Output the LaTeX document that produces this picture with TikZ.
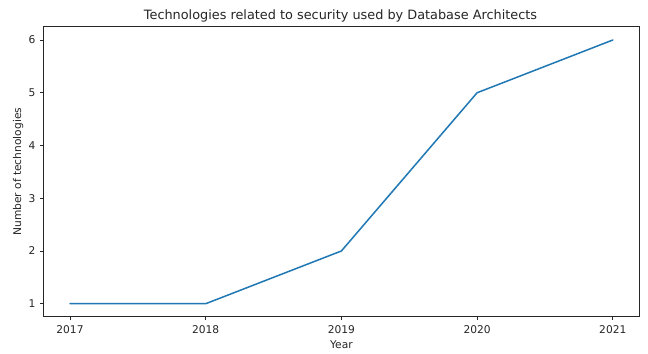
\documentclass[tikz,border=0pt]{standalone}
\usepackage{fontspec}
\setmainfont{DejaVu Sans}
\definecolor{mplblue}{HTML}{1F77B4}
\definecolor{axgray}{HTML}{262626}
\begin{document}
\begin{tikzpicture}[x=1bp,y=-1bp,
  ticklab/.style={font=\fontsize{10.7}{12}\selectfont, text=axgray, inner sep=0pt},
  tickmark/.style={draw=axgray, line width=0.8bp},
  spine/.style={draw=axgray, line width=0.8bp},
  series/.style={draw=mplblue, line width=1.5bp, line join=round, line cap=round}]
\useasboundingbox (0,0) rectangle (648,353);
\fill[white] (0,0) rectangle (648,353);
% data points: x = 70 + 135.7*(year-2017), y = 303.7 - 52.74*(v-1)
\coordinate (p17) at (70,303.7);
\coordinate (p18) at (205.7,303.7);
\coordinate (p19) at (341.4,250.96);
\coordinate (p20) at (477.1,92.74);
\coordinate (p21) at (612.8,40.0);
\draw[series] (p17) -- (p18) -- (p19) -- (p20) -- (p21);
% axes frame
\draw[spine] (43.3,26.8) rectangle (639.5,316.8);
% x ticks
\foreach \yr/\xx in {2017/70,2018/205.7,2019/341.4,2020/477.1,2021/612.8}{
  \draw[tickmark] (\xx,316.8) -- (\xx,320.3);
  \node[ticklab, anchor=north] (xt\yr) at (\xx,325.6) {\yr};
}
% y ticks
\foreach \v/\yy in {1/303.7,2/250.96,3/198.22,4/145.48,5/92.74,6/40.0}{
  \draw[tickmark] (43.3,\yy) -- (39.8,\yy);
  \node[ticklab, anchor=east] (yt\v) at (35.6,\yy) {\v};
}
\node[ticklab, anchor=north] (xlabel) at (341.4,340.3) {Year};
\node[ticklab, anchor=south, rotate=90] (ylabel) at (23.5,171.8) {Number of technologies};
\node[inner sep=0pt, text=axgray, font=\fontsize{12.9}{14}\selectfont, anchor=base] (title) at (340.5,19.3) {Technologies related to security used by Database Architects};
\end{tikzpicture}
\end{document}
